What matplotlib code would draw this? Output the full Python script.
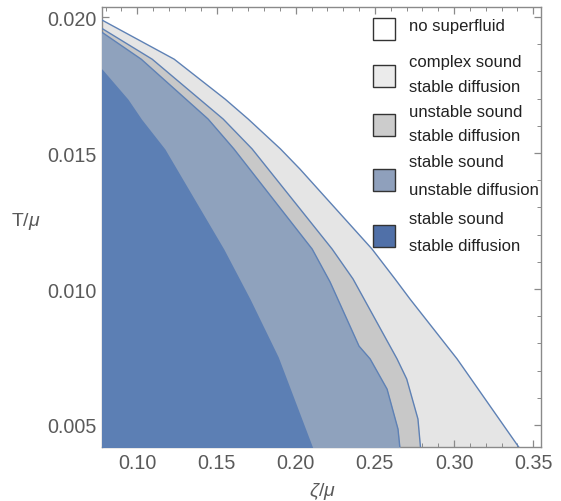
import matplotlib
matplotlib.use("Agg")
import matplotlib.pyplot as plt
from matplotlib.patches import Rectangle
from matplotlib.ticker import MultipleLocator, FormatStrFormatter

plt.rcParams['font.family'] = ['Liberation Sans', 'DejaVu Sans']
plt.rcParams['mathtext.fontset'] = 'custom'
plt.rcParams['mathtext.it'] = 'Liberation Sans:italic'
plt.rcParams['mathtext.rm'] = 'Liberation Sans'

# ---- data: boundaries (zeta/mu, T/mu) ----
outer_z = [0.0777, 0.1233, 0.1555, 0.1700, 0.1904, 0.2027, 0.2482, 0.2627, 0.2722, 0.3019, 0.3425]
outer_T = [0.01989, 0.01845, 0.01698, 0.01625, 0.01515, 0.01441, 0.01147, 0.01037, 0.00963, 0.00743, 0.00405]

gray_z = [0.0777, 0.1094, 0.1542, 0.1725, 0.2230, 0.2362, 0.2640, 0.2701, 0.2772, 0.2790]
gray_T = [0.01958, 0.01845, 0.01625, 0.01515, 0.01147, 0.01037, 0.00743, 0.00669, 0.00522, 0.00405]

slate_z = [0.0777, 0.1025, 0.1447, 0.1610, 0.2104, 0.2217, 0.2400, 0.2470, 0.2577, 0.2646, 0.2660]
slate_T = [0.01944, 0.01845, 0.01625, 0.01515, 0.01147, 0.01026, 0.00790, 0.00743, 0.00632, 0.00485, 0.00405]

dark_z = [0.0777, 0.0941, 0.1026, 0.1174, 0.1546, 0.1712, 0.1890, 0.2115]
dark_T = [0.01809, 0.01698, 0.01625, 0.01515, 0.01147, 0.00963, 0.00750, 0.00405]

x_ticks = [0.10, 0.15, 0.20, 0.25, 0.30, 0.35]
y_ticks = [0.005, 0.010, 0.015, 0.020]

legend_labels = ["no superfluid",
                 "complex sound\nstable diffusion",
                 "unstable sound\nstable diffusion",
                 "stable sound\nunstable diffusion",
                 "stable sound\nstable diffusion"]

# ---- styles ----
c_light = '#e5e5e5'
c_gray = '#c8c8c8'
c_slate = '#8fa2bd'
c_dark = '#5c7fb4'
c_line = '#5e81b5'
leg_faces = ['#ffffff', '#ebebeb', '#cccccc', '#8fa0bc', '#5070a8']

W, H = 561, 502
fig = plt.figure(figsize=(W / 100, H / 100), dpi=100)
L, R, T, B = 102, 541, 8, 448
ax = fig.add_axes([L / W, (H - B) / H, (R - L) / W, (B - T) / H])

xmin, xmax = 0.0777, 0.3549
ymin, ymax = 0.00419, 0.02037
XL = 0.05

ax.fill_betweenx(outer_T, XL, outer_z, color=c_light, lw=0, zorder=1)
ax.fill_betweenx(gray_T, XL, gray_z, color=c_gray, lw=0, zorder=2)
ax.fill_betweenx(slate_T, XL, slate_z, color=c_slate, lw=0, zorder=3)
ax.fill_betweenx(dark_T, XL, dark_z, color=c_dark, lw=0, zorder=4)
for zz, tt in [(outer_z, outer_T), (gray_z, gray_T), (slate_z, slate_T)]:
    ax.plot(zz, tt, color=c_line, lw=1.0, zorder=5, solid_joinstyle='round')

ax.set_xlim(xmin, xmax)
ax.set_ylim(ymin, ymax)

ax.set_xticks(x_ticks)
ax.set_yticks(y_ticks)
ax.xaxis.set_major_formatter(FormatStrFormatter('%.2f'))
ax.yaxis.set_major_formatter(FormatStrFormatter('%.3f'))
ax.xaxis.set_minor_locator(MultipleLocator(0.01))
ax.yaxis.set_minor_locator(MultipleLocator(0.001))
ax.tick_params(which='both', direction='in', top=True, right=True,
               color='#8a8a8a', labelcolor='#5a5a5a', labelsize=14.2)
ax.tick_params(which='major', length=5, width=0.9, pad=4)
ax.tick_params(which='minor', length=2.8, width=0.7)
for s in ax.spines.values():
    s.set_color('#8a8a8a')
    s.set_linewidth(1.0)

fig.text(322 / W, 1 - 492 / H, r'$\mathit{\zeta}$/$\mathit{\mu}$', ha='center', va='center',
         fontsize=14, color='#5a5a5a')
fig.text(26 / W, 1 - 222 / H, r'T/$\mathit{\mu}$', ha='center', va='center',
         fontsize=14, color='#5a5a5a')

# ---- legend ----
box_cy = [30, 76.5, 126, 181, 236.5]
text_y = [[27], [62.5, 87.5], [112.5, 136.5], [163, 190.5], [220, 246.5]]
bw, bh = 22, 22
for i, lab in enumerate(legend_labels):
    cx = 384
    r = Rectangle(((cx - bw / 2) / W, 1 - (box_cy[i] + bh / 2) / H), bw / W, bh / H,
                  transform=fig.transFigure, facecolor=leg_faces[i],
                  edgecolor='#333333', lw=1.0, zorder=10)
    fig.add_artist(r)
    for line, ty in zip(lab.split('\n'), text_y[i]):
        fig.text(409 / W, 1 - ty / H, line, ha='left', va='center', fontsize=12.0,
                 color='#222222', zorder=11)

fig.savefig('out.png', dpi=100)
